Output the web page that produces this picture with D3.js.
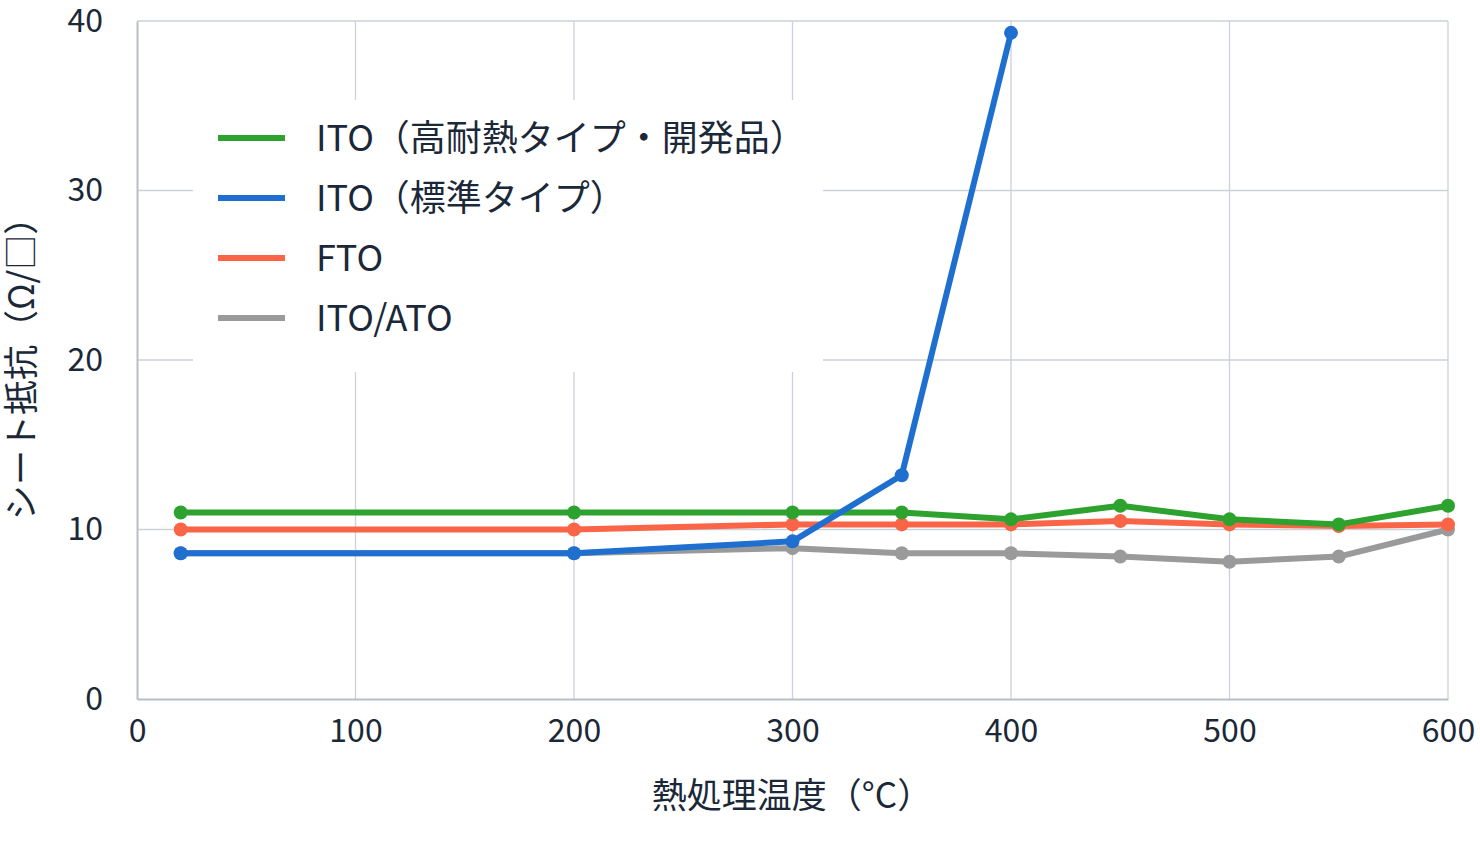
<!DOCTYPE html>
<html>
<head>
<meta charset="utf-8">
<script src="https://d3js.org/d3.v7.min.js"></script>
<style>
body{margin:0;background:#fff;}
text{font-family:"Noto Sans CJK JP","Noto Sans",sans-serif;fill:#1b2838;}
</style>
</head>
<body>
<script>
var temps = [20, 200, 300, 350, 400, 450, 500, 550, 600];
var itoHeat = [11, 11, 11, 11, 10.6, 11.4, 10.6, 10.3, 11.4];
var itoStd = [8.6, 8.6, 9.3, 13.2, 39.3];
var fto = [10, 10, 10.3, 10.3, 10.3, 10.5, 10.3, 10.2, 10.3];
var itoAto = [8.6, 8.6, 8.9, 8.6, 8.6, 8.4, 8.1, 8.4, 10];
var xTicks = [0, 100, 200, 300, 400, 500, 600];
var yTicks = [0, 10, 20, 30, 40];

var series = [
  {name:"ITO/ATO", vals:itoAto, color:"#9a9a9a"},
  {name:"FTO", vals:fto, color:"#fa6548"},
  {name:"ITO（高耐熱タイプ・開発品）", vals:itoHeat, color:"#2ea22e"},
  {name:"ITO（標準タイプ）", vals:itoStd, color:"#1f6fd1"}
];
var legendOrder = [2, 3, 1, 0];

var w = 1480, h = 849;
var svg = d3.select("body").append("svg").attr("width", w).attr("height", h);
var x = d3.scaleLinear().domain([0, 600]).range([137, 1448]);
var y = d3.scaleLinear().domain([0, 40]).range([699, 21]);

// grid
svg.append("g").selectAll("line").data(xTicks.slice(1)).enter().append("line")
  .attr("x1", d => x(d)).attr("x2", d => x(d)).attr("y1", y(0)).attr("y2", y(40))
  .attr("stroke", "#cbd2d9").attr("stroke-width", 1.3);
svg.append("g").selectAll("line").data(yTicks.slice(1)).enter().append("line")
  .attr("x1", x(0)).attr("x2", x(600)).attr("y1", d => y(d)).attr("y2", d => y(d))
  .attr("stroke", "#cbd2d9").attr("stroke-width", 1.3);

// axes
var xAxis = svg.append("g").attr("transform", "translate(0," + y(0) + ")")
  .call(d3.axisBottom(x).tickValues(xTicks).tickSize(0).tickPadding(20));
var yAxis = svg.append("g").attr("transform", "translate(" + x(0) + ",0)")
  .call(d3.axisLeft(y).tickValues(yTicks).tickSize(0).tickPadding(34));
[xAxis, yAxis].forEach(function(a){
  a.select(".domain").attr("stroke", "#b7bec6").attr("stroke-width", 2);
  a.selectAll("text").style("font-size", "32px").attr("fill", "#1b2838");
});

// legend background
svg.append("rect").attr("x", 193).attr("y", 100).attr("width", 630).attr("height", 272).attr("fill", "#fff");

// lines
var line = d3.line().x((d, i) => x(temps[i])).y(d => y(d));
series.forEach(function(s){
  svg.append("path").datum(s.vals).attr("d", line).attr("fill", "none")
    .attr("stroke", s.color).attr("stroke-width", 6).attr("stroke-linejoin", "round");
  svg.append("g").selectAll("circle").data(s.vals).enter().append("circle")
    .attr("cx", (d, i) => x(temps[i])).attr("cy", d => y(d)).attr("r", 7).attr("fill", s.color);
});

// legend
legendOrder.forEach(function(si, k){
  var s = series[si], ly = 138 + k * 60;
  svg.append("line").attr("x1", 218).attr("x2", 285).attr("y1", ly).attr("y2", ly)
    .attr("stroke", s.color).attr("stroke-width", 6);
  svg.append("text").attr("x", 316).attr("y", ly + 13).style("font-size", "36px").text(s.name);
});

// titles
svg.append("text").attr("x", 792).attr("y", 808).attr("text-anchor", "middle")
  .style("font-size", "35px").text("熱処理温度（°C）");
svg.append("text").attr("transform", "translate(34,360) rotate(-90)").attr("text-anchor", "middle")
  .style("font-size", "35px").text("シート抵抗（Ω/□）");
</script>
</body>
</html>
